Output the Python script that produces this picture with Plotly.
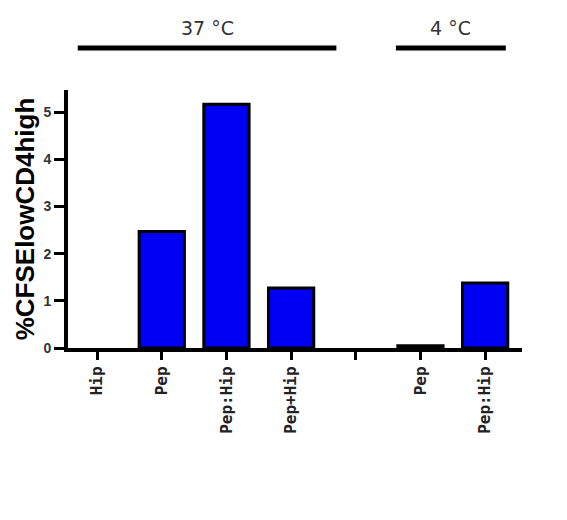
import plotly.graph_objects as go

positions = [0, 1, 2, 3, 4, 5, 6]
tick_labels = ["Hip", "Pep", "Pep:Hip", "Pep+Hip", "", "Pep", "Pep:Hip"]
values = [0, 2.47, 5.17, 1.27, None, 0.05, 1.38]
groups = [("37 °C", -0.3, 3.7), ("4 °C", 4.62, 6.32)]

line_widths = [0 if (v is None or v == 0) else 3 for v in values]

fig = go.Figure(go.Bar(
    x=positions, y=values, width=0.7,
    marker=dict(color="#0000f2", line=dict(color="black", width=line_widths)),
))

for label, x0, x1 in groups:
    fig.add_shape(type="line", xref="x", yref="paper", x0=x0, x1=x1, y0=1.163, y1=1.163,
                  line=dict(color="black", width=5))
    fig.add_annotation(x=(x0 + x1) / 2, y=1.24, xref="x", yref="paper", text=label,
                       yanchor="middle", xanchor="center",
                       showarrow=False, font=dict(size=19, color="#333", family="DejaVu Sans"))

fig.update_layout(
    width=567, height=520,
    margin=dict(l=68, r=45, t=90, b=172),
    plot_bgcolor="white", paper_bgcolor="white",
    showlegend=False,
    font=dict(family="Liberation Sans", color="black"),
)
fig.update_xaxes(
    range=[-0.45, 6.57], tickmode="array", tickvals=positions,
    ticktext=["<b>%s</b>" % t if t else "" for t in tick_labels],
    tickangle=-90, ticks="outside", ticklen=8, tickwidth=3, tickcolor="black",
    showline=True, linewidth=4, linecolor="black", showgrid=False, zeroline=False,
    tickfont=dict(size=16, family="DejaVu Sans Mono", color="#222"),
)
fig.update_yaxes(
    range=[0, 5.47], tickvals=[0, 1, 2, 3, 4, 5],
    ticktext=["<b>%d</b>" % v for v in [0, 1, 2, 3, 4, 5]],
    ticks="outside", ticklen=10, tickwidth=3,
    tickcolor="black", showline=True, linewidth=4, linecolor="black", showgrid=False,
    zeroline=False, tickfont=dict(size=14, family="Liberation Sans", color="#333"),
    title=dict(text="<b>%CFSElowCD4high</b>", font=dict(size=26, family="Liberation Sans"), standoff=2),
)

fig.write_html("out.html")
